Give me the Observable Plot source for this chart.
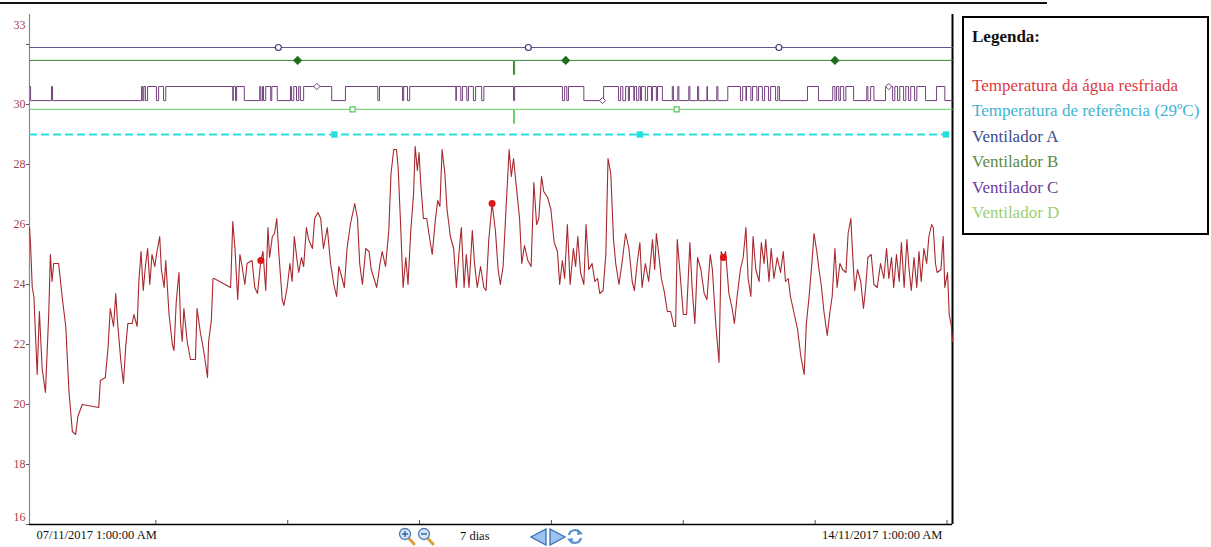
<!DOCTYPE html>
<html><head><meta charset="utf-8">
<script src="https://cdn.jsdelivr.net/npm/d3@7"></script>
<script src="https://cdn.jsdelivr.net/npm/@observablehq/plot@0.6"></script>
<style>
body{margin:0;background:#fff;}
#wrap{position:relative;width:1211px;height:547px;overflow:hidden;font-family:"Liberation Serif","Times New Roman",serif;}
#chart{position:absolute;left:0;top:0;}
#topline{position:absolute;left:0;top:2px;width:1047px;height:0;border-top:2px solid #111;}
#legend{position:absolute;left:962px;top:16px;width:243px;height:215px;border:2px solid #000;background:#fff;}
#legend .title{font-weight:bold;font-size:17px;line-height:20px;padding:9px 0 0 8px;color:#111;}
#legend .items{margin-top:26px;padding-left:8px;}
#legend .item{font-size:17px;line-height:25.4px;white-space:nowrap;}
.ctl{position:absolute;}
#dias{position:absolute;left:460px;top:529px;font-size:12.5px;color:#111;}
</style></head>
<body>
<div id="wrap">
  <div id="chart"></div>
  <div id="topline"></div>
  <div id="legend"><div class="title">Legenda:</div><div class="items" id="items"></div></div>
  <svg class="ctl" style="left:398px;top:527px" width="18" height="19" viewBox="0 0 18 19"><line x1="10.5" y1="11" x2="16" y2="17" stroke="#d9a13a" stroke-width="3" stroke-linecap="round"/><circle cx="7" cy="7" r="5.5" fill="#d6e6f7" stroke="#4a78b5" stroke-width="1.3"/><line x1="4" y1="7" x2="10" y2="7" stroke="#2f5d9a" stroke-width="1.4"/><line x1="7" y1="4" x2="7" y2="10" stroke="#2f5d9a" stroke-width="1.4"/></svg>
  <svg class="ctl" style="left:417px;top:527px" width="18" height="19" viewBox="0 0 18 19"><line x1="10.5" y1="11" x2="16" y2="17" stroke="#d9a13a" stroke-width="3" stroke-linecap="round"/><circle cx="7" cy="7" r="5.5" fill="#d6e6f7" stroke="#4a78b5" stroke-width="1.3"/><line x1="4" y1="7" x2="10" y2="7" stroke="#2f5d9a" stroke-width="1.4"/></svg>
  <div id="dias">7 dias</div>
  <svg class="ctl" style="left:530px;top:528px" width="18" height="18" viewBox="0 0 18 18"><polygon points="16,1 16,17 1,9" fill="#9cc3ef" stroke="#3a6fb5" stroke-width="1.3"/></svg>
  <svg class="ctl" style="left:548px;top:528px" width="18" height="18" viewBox="0 0 18 18"><polygon points="2,1 2,17 17,9" fill="#9cc3ef" stroke="#3a6fb5" stroke-width="1.3"/></svg>
  <svg class="ctl" style="left:566px;top:527px" width="18" height="19" viewBox="0 0 18 19"><path d="M3,8 A6,6 0 0 1 14,6" fill="none" stroke="#5b8fd0" stroke-width="2.2"/><polygon points="12,2 17,7 11,8" fill="#5b8fd0"/><path d="M15,11 A6,6 0 0 1 4,13" fill="none" stroke="#5b8fd0" stroke-width="2.2"/><polygon points="6,17 1,12 7,11" fill="#5b8fd0"/></svg>
</div>
<script>
// ---------- data ----------
const legendLabels = ["Temperatura da água resfriada","Temperatura de referência (29ºC)","Ventilador A","Ventilador B","Ventilador C","Ventilador D"];
const legendColors = ["#dd3a3f","#3fb4d4","#3e4a8c","#5e8a3c","#6b3c9c","#9ccf6e"];
const yTickMarks = [16,18,20,22,24,26,28,30,32];
const yTickLabels = [16,18,20,22,24,26,28,30,33];
const dayTickHours = [23,47,71,95,119,143,167];
const xLabelHours = [0,168];
const xTickLabels = ["07/11/2017 1:00:00 AM","14/11/2017 1:00:00 AM"];
const referenceTemp = [29];
// temperature of chilled water: [hours since 07/11 01:00, °C]
const tempSeries = [[0,25.9],[0.2,25.3],[0.5,23.9],[0.8,23.6],[1.4,21.0],[1.8,23.1],[2.3,21.2],[2.9,20.4],[3.5,23.0],[3.8,25.0],[4.1,24.1],[4.4,24.7],[5.3,24.7],[6.0,23.5],[6.6,22.6],[7.2,20.4],[7.8,19.1],[8.4,19.0],[8.8,19.6],[9.6,20.0],[12.6,19.9],[12.9,20.8],[13.8,20.9],[14.3,21.9],[14.7,23.2],[15.3,22.6],[15.7,23.7],[16.0,22.8],[16.6,21.5],[17.1,20.7],[17.5,21.9],[17.9,22.7],[18.7,22.7],[19.0,23.0],[19.6,22.6],[19.9,24.1],[20.3,25.1],[20.7,23.8],[21.1,24.6],[21.5,25.2],[21.9,24.0],[22.3,25.0],[22.8,24.6],[23.2,25.1],[23.7,25.6],[24.0,24.5],[24.5,23.9],[24.8,24.8],[25.4,23.0],[26.0,22.0],[26.3,21.8],[26.7,23.4],[27.2,24.4],[27.5,22.7],[27.8,22.1],[28.1,23.2],[28.7,22.1],[29.3,21.5],[30.2,21.5],[30.5,23.2],[31.1,22.4],[31.7,21.8],[32.4,20.9],[32.6,22.1],[33.1,22.8],[33.4,24.2],[33.6,24.2],[36.6,23.9],[36.7,24.4],[37.0,26.1],[37.4,25.2],[37.9,23.5],[38.3,25.0],[38.7,24.6],[39.2,24.0],[39.6,24.7],[40.5,24.8],[41.0,23.9],[41.5,23.7],[42.1,24.8],[42.5,25.1],[43.0,23.8],[43.4,25.9],[43.7,24.9],[44.2,25.6],[44.6,25.7],[45.0,26.2],[45.4,25.0],[46.0,23.5],[46.3,23.3],[46.9,23.9],[47.4,24.7],[47.8,24.1],[48.2,25.6],[48.7,24.8],[49.0,24.4],[49.5,24.9],[49.9,24.6],[50.4,25.9],[50.8,25.5],[51.5,25.2],[51.9,26.2],[52.5,26.4],[53.0,26.2],[53.5,25.2],[54.2,25.9],[54.8,24.7],[55.4,24.0],[55.9,23.6],[56.3,24.6],[56.9,24.2],[57.3,23.9],[57.8,25.2],[58.4,26.0],[59.2,26.7],[59.7,26.2],[60.1,24.7],[60.6,24.0],[61.2,25.2],[61.8,25.1],[62.2,24.5],[62.7,24.2],[63.2,23.9],[63.8,24.7],[64.2,25.1],[64.8,24.6],[65.4,25.8],[65.8,27.7],[66.3,28.5],[66.8,28.5],[67.1,27.9],[67.5,26.2],[68.0,23.9],[68.5,24.9],[68.9,24.0],[69.4,25.8],[69.9,27.0],[70.2,28.6],[70.6,27.8],[70.9,28.4],[71.2,27.4],[71.7,26.2],[72.3,26.2],[72.7,25.7],[73.3,25.0],[73.9,26.2],[74.3,26.8],[74.7,26.6],[75.1,28.5],[75.6,27.7],[76.0,26.5],[76.6,25.6],[77.2,25.2],[77.7,23.9],[78.2,25.1],[78.6,25.9],[79.1,23.9],[79.5,25.0],[80.0,23.9],[80.6,25.8],[81.0,24.7],[81.5,23.9],[82.1,24.6],[82.7,23.9],[83.1,23.8],[83.6,25.5],[84.2,26.7],[84.8,25.8],[85.3,24.5],[85.7,24.0],[86.2,24.6],[86.7,26.4],[87.3,28.5],[87.7,27.6],[88.1,28.2],[88.7,27.1],[89.2,26.2],[89.6,24.7],[90.1,25.3],[90.7,24.8],[91.3,24.6],[91.8,27.4],[92.3,26.0],[92.7,26.2],[93.2,27.6],[93.6,27.1],[94.3,26.9],[94.9,26.5],[95.5,25.4],[96.1,25.1],[96.5,24.0],[97.0,24.8],[97.4,24.2],[97.9,26.0],[98.4,24.0],[99.0,25.2],[99.4,24.6],[99.8,25.6],[100.3,24.4],[100.9,24.0],[101.3,26.0],[101.8,24.5],[102.4,24.7],[102.9,24.1],[103.4,24.2],[103.8,23.7],[104.4,23.8],[104.9,25.0],[105.3,28.2],[105.8,27.7],[106.3,25.5],[106.7,24.7],[107.3,24.0],[107.9,24.8],[108.5,25.7],[109.1,25.2],[109.7,24.1],[110.1,23.8],[110.6,24.7],[111.1,25.4],[111.5,23.9],[112.1,24.7],[112.7,24.1],[113.4,25.5],[113.8,24.5],[114.1,25.7],[114.6,24.9],[115.0,24.2],[115.5,23.8],[116.1,23.1],[116.7,23.1],[117.3,22.6],[117.6,22.6],[117.9,25.5],[118.4,24.4],[119.0,23.0],[119.6,23.0],[120.2,25.4],[120.6,23.9],[121.1,22.7],[121.6,24.9],[122.2,24.5],[122.8,23.7],[123.3,23.5],[123.9,25.0],[124.3,24.5],[124.9,22.7],[125.5,21.4],[125.9,25.1],[126.3,24.9],[126.7,25.1],[127.3,23.7],[127.9,23.2],[128.3,22.7],[128.8,23.6],[129.4,24.5],[129.9,24.9],[130.4,25.9],[130.8,24.2],[131.3,23.6],[131.7,25.6],[132.2,24.5],[132.8,24.1],[133.2,25.4],[133.7,24.7],[134.0,25.5],[134.6,24.1],[135.0,25.2],[135.5,24.2],[136.1,24.9],[136.7,24.4],[137.2,25.1],[137.6,24.1],[138.1,24.2],[138.5,23.6],[139.1,23.1],[139.8,22.5],[140.4,21.6],[141.0,21.0],[141.4,22.7],[141.9,23.6],[142.4,24.7],[142.8,25.7],[143.3,25.1],[143.7,24.5],[144.1,24.0],[144.6,23.1],[145.2,22.3],[145.7,23.1],[146.1,23.6],[146.6,25.2],[147.0,23.9],[147.5,24.7],[148.0,24.5],[148.6,24.4],[149.0,25.7],[149.5,26.2],[149.8,25.1],[150.2,23.8],[150.7,24.5],[151.3,24.1],[151.8,23.2],[152.2,23.9],[152.6,24.9],[153.2,25.0],[153.7,24.0],[154.3,23.9],[154.9,24.7],[155.5,24.2],[156.0,25.2],[156.4,24.2],[156.9,24.9],[157.3,23.9],[157.8,25.0],[158.3,24.1],[158.7,25.4],[159.2,23.9],[159.7,25.5],[160.1,24.5],[160.5,23.8],[161.0,24.9],[161.5,23.9],[161.9,25.1],[162.3,24.1],[162.8,25.2],[163.3,24.7],[163.7,25.6],[164.2,26.0],[164.5,25.9],[164.9,24.7],[165.2,24.4],[165.9,24.5],[166.3,25.6],[166.6,23.9],[167.1,24.4],[167.4,23.0],[167.8,22.6],[168.0,22.1]];
// fan on/off states: [hours, state]
const fanA = [[0,1],[168,1]];
const fanB = [[0,1],[88.1,0],[88.3,1],[168,1]];
const fanD = [[0,1],[88.1,0],[88.3,1],[168,1]];
const fanC = [[0,1],[0.2,0],[4.0,1],[4.2,0],[20.4,1],[20.6,0],[20.8,1],[21.1,0],[21.5,1],[23.1,0],[23.5,1],[24.4,0],[24.8,1],[37.0,0],[37.1,1],[37.5,0],[37.7,1],[39.1,0],[41.9,1],[42.1,0],[42.4,1],[42.6,0],[43.0,1],[43.9,0],[44.1,1],[45.1,0],[47.5,1],[47.7,0],[48.1,1],[48.6,0],[49.0,1],[49.3,0],[49.9,1],[55.0,0],[57.5,1],[63.4,0],[63.7,1],[67.9,0],[68.1,1],[68.8,0],[69.2,1],[77.6,0],[77.7,1],[78.5,0],[78.8,1],[79.6,0],[79.9,1],[80.8,0],[81.2,1],[82.3,0],[82.7,1],[88.1,0],[88.3,1],[97.0,0],[97.4,1],[97.8,0],[98.1,1],[100.9,0],[104.5,1],[107.2,0],[107.6,1],[108.0,0],[108.5,1],[109.0,0],[109.2,1],[110.0,0],[110.1,1],[110.5,0],[110.9,1],[111.2,0],[111.4,1],[112.1,0],[112.5,1],[113.2,0],[113.4,1],[114.1,0],[114.3,1],[115.2,0],[117.0,1],[117.2,0],[118.0,1],[118.2,0],[120.0,1],[120.2,0],[121.6,1],[121.8,0],[123.3,1],[123.4,0],[125.1,1],[125.3,0],[127.1,1],[129.4,0],[129.8,1],[130.4,0],[130.5,1],[131.3,0],[131.6,1],[132.4,0],[132.7,1],[133.4,0],[133.8,1],[134.5,0],[134.9,1],[135.8,0],[136.2,1],[136.5,0],[141.6,1],[143.6,0],[146.2,1],[146.6,0],[146.9,1],[147.3,0],[147.6,1],[148.2,0],[148.6,1],[150.0,0],[152.4,1],[152.6,0],[153.1,1],[153.7,0],[155.8,1],[157.1,0],[157.5,1],[158.0,0],[158.4,1],[159.1,0],[159.5,1],[160.0,0],[160.4,1],[161.1,0],[161.5,1],[163.1,0],[165.1,1],[166.6,0],[168,0]];
// marker times (hours)
const tempMarks = [42.1,84.2,126.3];
const refMarks = [55.5,111.1,166.8];
const fanAMarks = [45.3,90.8,136.4];
const fanBMarks = [48.8,97.6,146.6];
const fanCMarks = [52.3,104.3,156.4];
const fanDMarks = [58.8,117.8];

// ---------- layout constants (fan trace baselines on the shared axis) ----------
const fanBase = {A:31.43, B:31.0, C:30.13, D:29.37};
const fanStep = 0.47;
const cTemp="#a8282e", cRef="#26e0e0", cA="#5a5a8e", cB="#2f8a30", cC="#74407e", cD="#5fcf5f";

const stateAt = (series, t) => { let s = series[0][1]; for (const [h, v] of series) if (h <= t) s = v; return s; };
const tempAt = t => { let best = tempSeries[0]; for (const p of tempSeries) if (Math.abs(p[0]-t) < Math.abs(best[0]-t)) best = p; return best[1]; };
const fanLine = (series, key, color) => Plot.line(series, {x: d => d[0], y: d => fanBase[key] + d[1]*fanStep, curve: "step-after", stroke: color, strokeWidth: 1});

const chart = Plot.plot({
  width: 960, height: 547,
  marginLeft: 29, marginRight: 8, marginTop: 14, marginBottom: 23,
  style: {fontFamily: "Liberation Serif, Times New Roman, serif", fontSize: "12px", color: "#555", background: "transparent", overflow: "visible"},
  x: {domain: [0,168], ticks: dayTickHours, tickFormat: () => "", tickSize: -4, label: null},
  y: {domain: [16,33], ticks: yTickMarks, tickFormat: () => "", tickSize: 3, label: null},
  marks: [
    Plot.ruleX([0], {stroke: "#888", strokeWidth: 1.2}),
    Plot.ruleX([168], {stroke: "#000", strokeWidth: 2}),
    Plot.ruleY([16], {stroke: "#000", strokeWidth: 1.5}),
    fanLine(fanA, "A", cA),
    fanLine(fanB, "B", cB),
    fanLine(fanC, "C", cC),
    fanLine(fanD, "D", cD),
    Plot.ruleY(referenceTemp, {stroke: cRef, strokeWidth: 2, strokeDasharray: "8,4"}),
    Plot.line(tempSeries, {x: d => d[0], y: d => d[1], stroke: cTemp, strokeWidth: 1.1}),
    Plot.dot(tempMarks, {x: d => d, y: d => tempAt(d), r: 3.5, fill: "#e01515", stroke: "none"}),
    Plot.dot(refMarks, {x: d => d, y: () => referenceTemp[0], symbol: "square", r: 3.6, fill: cRef, stroke: "none"}),
    Plot.dot(fanAMarks, {x: d => d, y: d => fanBase.A + stateAt(fanA, d)*fanStep, r: 3, fill: "white", stroke: "#3e3e86", strokeWidth: 1.2}),
    Plot.dot(fanBMarks, {x: d => d, y: d => fanBase.B + stateAt(fanB, d)*fanStep, symbol: "diamond2", r: 3.2, fill: "#1f6e20", stroke: "#1f6e20"}),
    Plot.dot(fanCMarks, {x: d => d, y: d => fanBase.C + stateAt(fanC, d)*fanStep, symbol: "diamond2", r: 2.8, fill: "white", stroke: cC, strokeWidth: 1}),
    Plot.dot(fanDMarks, {x: d => d, y: d => fanBase.D + stateAt(fanD, d)*fanStep, symbol: "square2", r: 3.2, fill: "white", stroke: "#55c855", strokeWidth: 1.2}),
    Plot.text(yTickLabels.filter(d => d > 16 && d < 33), {y: d => d, text: d => String(d), frameAnchor: "left", dx: -4, textAnchor: "end", fill: "#a94048", fontSize: 12}),
    Plot.text(yTickLabels.filter(d => d === 33), {y: d => d, text: d => String(d), frameAnchor: "left", dx: -4, dy: 11, textAnchor: "end", fill: "#a94048", fontSize: 12}),
    Plot.text(yTickLabels.filter(d => d === 16), {y: d => d, text: d => String(d), frameAnchor: "left", dx: -4, dy: -7, textAnchor: "end", fill: "#a94048", fontSize: 12}),
    Plot.text([0], {x: i => xLabelHours[i], text: i => xTickLabels[i], frameAnchor: "bottom", dy: 14, dx: 7, textAnchor: "start", fill: "#111", fontSize: 12.5}),
    Plot.text([1], {x: i => xLabelHours[i], text: i => xTickLabels[i], frameAnchor: "bottom", dy: 14, dx: -10, textAnchor: "end", fill: "#111", fontSize: 12.5})
  ]
});
document.getElementById("chart").appendChild(chart);

const items = document.getElementById("items");
legendLabels.forEach((t, i) => {
  const div = document.createElement("div");
  div.className = "item";
  div.style.color = legendColors[i];
  div.textContent = t;
  items.appendChild(div);
});
</script>
</body></html>
